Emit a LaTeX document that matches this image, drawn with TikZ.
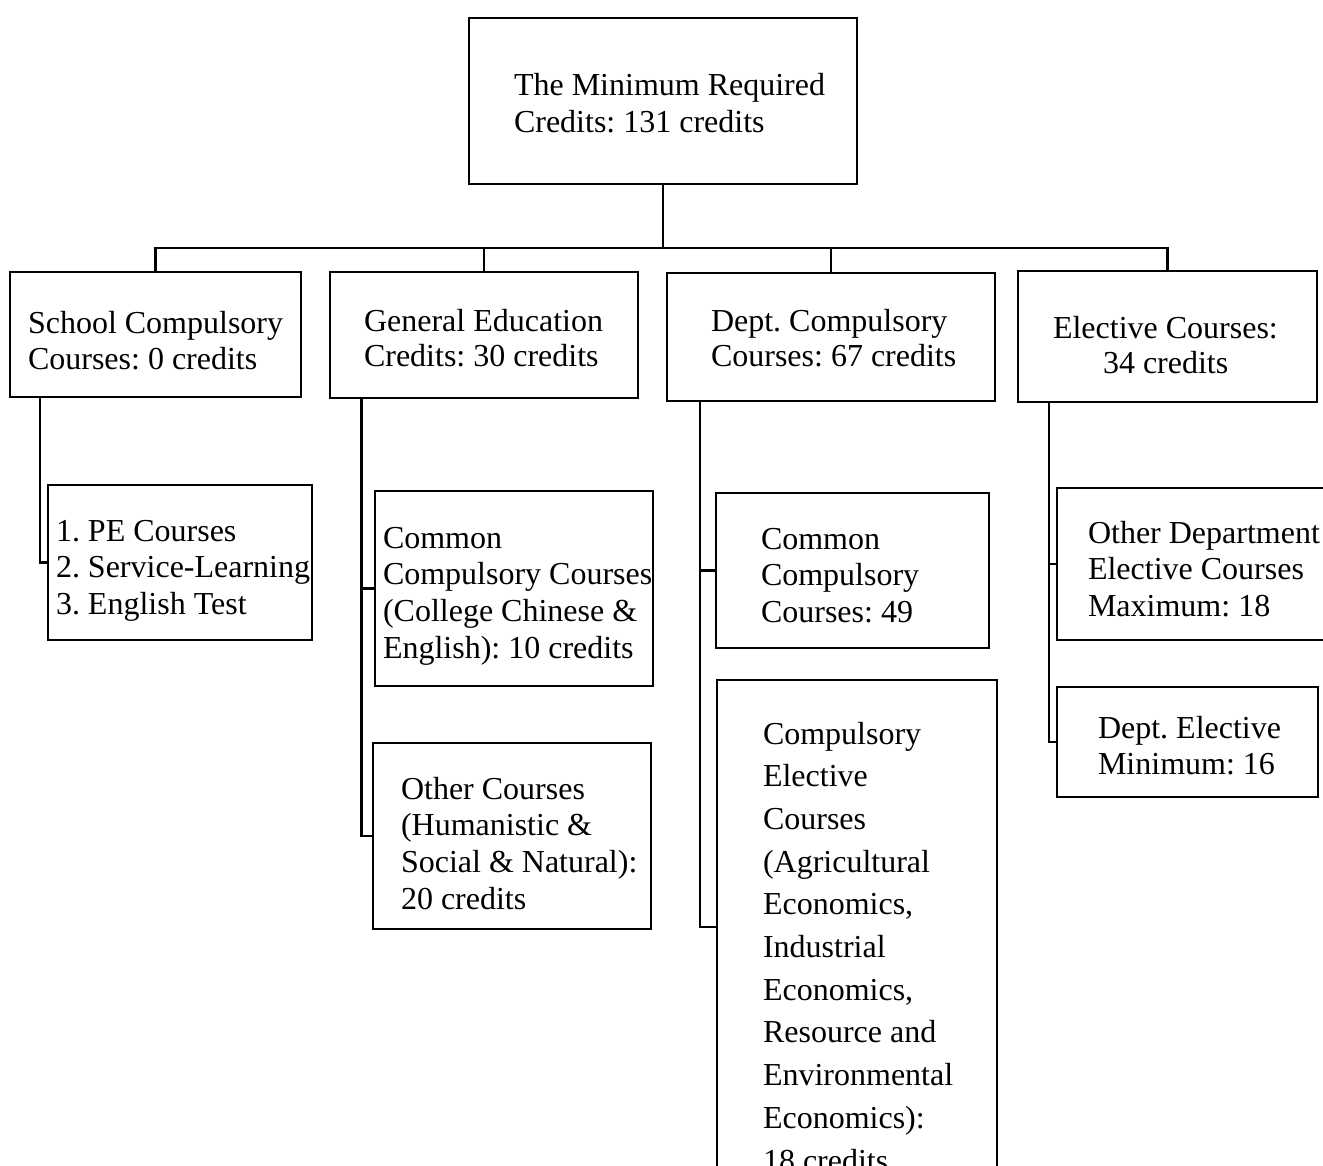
\documentclass[tikz,border=0pt]{standalone}
\usepackage{fontspec}
\setmainfont{Liberation Serif}
\frenchspacing
\newcommand{\linesat}[2][36.7pt]{\parbox[t]{420pt}{\fontsize{32pt}{#1}\selectfont\frenchspacing\raggedright #2}}
\begin{document}
\begin{tikzpicture}[x=1pt, y=-1pt,
  box/.style={draw, line width=2.8pt, inner sep=0pt, outer sep=0pt, anchor=north west},
  lbl/.style={anchor=base west, inner sep=0pt, outer sep=0pt},
  conn/.style={line width=2.8pt, line join=miter}]
\useasboundingbox (0,0) rectangle (1323,1166);
\clip (0,0) rectangle (1323,1166);
\fill[white] (0,0) rectangle (1323,1166);

% boxes
\node[box, minimum width=388pt, minimum height=166pt] (top) at (469,18) {};
\node[box, minimum width=291pt, minimum height=125pt] (school) at (10,272) {};
\node[box, minimum width=308pt, minimum height=126pt] (gen) at (330,272) {};
\node[box, minimum width=328pt, minimum height=128pt] (dept) at (667,273) {};
\node[box, minimum width=299pt, minimum height=131pt] (elec) at (1018,271) {};
\node[box, minimum width=264pt, minimum height=155pt] (pe) at (48,485) {};
\node[box, minimum width=278pt, minimum height=195pt] (gc1) at (375,491) {};
\node[box, minimum width=278pt, minimum height=186pt] (gc2) at (373,743) {};
\node[box, minimum width=273pt, minimum height=155pt] (dc1) at (716,493) {};
\node[box, minimum width=280pt, minimum height=494pt] (dc2) at (717,680) {};
\node[box, minimum width=300pt, minimum height=152pt] (ec1) at (1057,488) {};
\node[box, minimum width=261pt, minimum height=110pt] (ec2) at (1057,687) {};

% texts
\node[lbl] (ttop) at (514,96) {\linesat[37pt]{The Minimum Required\\Credits: 131 credits}};
\node[lbl] (tschool) at (28,334) {\linesat[36pt]{School Compulsory\\Courses: 0 credits}};
\node[lbl] (tgen) at (364,332) {\linesat[35pt]{General Education\\Credits: 30 credits}};
\node[lbl] (tdept) at (711,332) {\linesat[35pt]{Dept. Compulsory\\Courses: 67 credits}};
\node[lbl] (telec) at (1053,338.5) {\linesat[35.5pt]{Elective Courses:\\\hspace*{50pt}34 credits}};
\node[lbl] (tpe) at (56,541) {\linesat{1. PE Courses\\2. Service-Learning\\3. English Test}};
\node[lbl] (tgc1) at (383,548) {\linesat{Common\\Compulsory Courses\\(College Chinese \&\\English): 10 credits}};
\node[lbl] (tgc2) at (401,799) {\linesat{Other Courses\\(Humanistic \&\\Social \& Natural):\\20 credits}};
\node[lbl] (tdc1) at (761,549) {\linesat{Common\\Compulsory\\Courses: 49}};
\node[lbl] (tdc2) at (763,744) {\linesat[42.7pt]{Compulsory\\Elective\\Courses\\(Agricultural\\Economics,\\Industrial\\Economics,\\Resource and\\Environmental\\Economics):\\18 credits}};
\node[lbl] (tec1) at (1088,543) {\linesat{Other Department\\Elective Courses\\Maximum: 18}};
\node[lbl] (tec2) at (1098,738) {\linesat[36pt]{Dept. Elective\\Minimum: 16}};

% connectors
\coordinate (bus) at (663,248);
\coordinate (sv) at (40,0);
\coordinate (gv) at (361.5,0);
\coordinate (dv) at (700,0);
\coordinate (ev) at (1049,0);

\draw[conn] (top.south) -- (bus);
\draw[conn] (school.north) |- (bus) -| (elec.north);
\draw[conn] (gen.north) -- (gen.north |- bus);
\draw[conn] (dept.north) -- (dept.north |- bus);

\draw[conn] (school.south -| sv) |- (pe.west);
\draw[conn] (gen.south -| gv) |- (gc2.west);
\draw[conn] (gv |- gc1.west) -- (gc1.west);
\draw[conn] (dept.south -| dv) |- (dc2.west);
\draw[conn] (dv |- dc1.west) -- (dc1.west);
\draw[conn] (elec.south -| ev) |- (ec2.west);
\draw[conn] (ev |- ec1.west) -- (ec1.west);
\end{tikzpicture}
\end{document}
